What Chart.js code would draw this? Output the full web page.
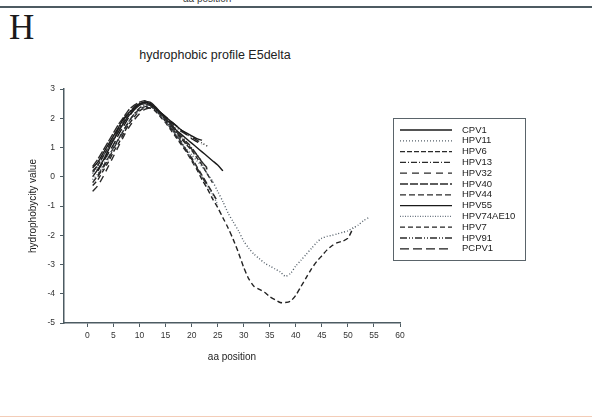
<!DOCTYPE html>
<html>
<head>
<meta charset="utf-8">
<script src="https://cdn.jsdelivr.net/npm/chart.js@4.4.1/dist/chart.umd.min.js"></script>
<style>
  html, body { margin: 0; padding: 0; background: #fff; }
  #wrap { position: relative; width: 592px; height: 418px; overflow: hidden; }
  #chart { position: absolute; left: 0; top: 0; }
  .cut { position: absolute; top: -7px; left: 183px; font: 10px "Liberation Sans", Arial, sans-serif; color: #3a3a3a; }
  .rule { position: absolute; top: 6px; left: 0; width: 592px; height: 2px; background: #4d5b62; }
  .foot { position: absolute; bottom: 1px; left: 0; width: 592px; height: 1px; background: #f3cdb8; }
  .panel { position: absolute; left: 9px; top: 8px; font: 35px "Liberation Serif", "DejaVu Serif", serif; color: #1a1a1a; }
  .title { position: absolute; left: 105px; width: 220px; top: 48px; text-align: center; font: 12.5px "Liberation Sans", Arial, sans-serif; color: #222; }
</style>
</head>
<body>
<div id="wrap">
  <div class="cut">aa position</div>
  <div class="rule"></div>
  <div class="panel">H</div>
  <div class="title">hydrophobic profile E5delta</div>
  <canvas id="chart" width="592" height="418"></canvas>
  <div class="foot"></div>
</div>
<script>
// series names (legend order) and first aa position of each series
const names = ['CPV1', 'HPV11', 'HPV6', 'HPV13', 'HPV32', 'HPV40', 'HPV44', 'HPV55', 'HPV74AE10', 'HPV7', 'HPV91', 'PCPV1']
const startPos = [1, 1, 1, 2, 1, 1, 1, 1, 1, 1, 1, 2]

// hydrophobicity values, one per aa position
const cpv1 = [0.3, 0.5, 0.8, 1.1, 1.4, 1.7, 2.0, 2.2, 2.35, 2.5, 2.55, 2.5, 2.35, 2.2, 2.05, 1.9, 1.75, 1.6, 1.5, 1.4, 1.3, 1.25]
const hpv11 = [-0.1, 0.1, 0.4, 0.7, 1.0, 1.3, 1.6, 1.9, 2.1, 2.3, 2.4, 2.4, 2.3, 2.1, 1.9, 1.7, 1.45, 1.2, 0.95, 0.75, 0.55, 0.35, 0.1, -0.15, -0.5, -0.85, -1.24, -1.55, -1.85, -2.2, -2.45, -2.65, -2.8, -2.95, -3.05, -3.15, -3.25, -3.4, -3.3, -3.05, -2.85, -2.65, -2.45, -2.25, -2.1, -2.04, -2.0, -1.95, -1.9, -1.85, -1.75, -1.65, -1.5, -1.4]
const hpv6 = [0.2, 0.4, 0.7, 1.0, 1.3, 1.6, 1.9, 2.15, 2.35, 2.45, 2.5, 2.45, 2.3, 2.1, 1.9, 1.7, 1.5, 1.3, 1.1, 0.9, 0.65, 0.4, 0.1, -0.2]
const hpv13 = [0.0, 0.3, 0.6, 0.95, 1.3, 1.6, 1.9, 2.15, 2.35, 2.45, 2.45, 2.35, 2.2, 2.0, 1.8, 1.6, 1.4, 1.2, 1.0, 0.75, 0.5, 0.25]
const hpv32 = [-0.5, -0.3, 0.0, 0.35, 0.7, 1.05, 1.4, 1.7, 1.95, 2.15, 2.3, 2.35, 2.3, 2.15, 1.95, 1.7, 1.45, 1.2, 0.9, 0.6, 0.3, 0.0, -0.3]
const hpv40 = [0.35, 0.6, 0.9, 1.2, 1.5, 1.8, 2.05, 2.3, 2.45, 2.55, 2.6, 2.5, 2.35, 2.15, 1.95, 1.75, 1.55, 1.35, 1.15, 0.95, 0.75, 0.5, 0.3]
const hpv44 = [-0.2, 0.05, 0.35, 0.65, 1.0, 1.3, 1.6, 1.9, 2.15, 2.3, 2.4, 2.4, 2.3, 2.1, 1.9, 1.65, 1.4, 1.15, 0.9, 0.65, 0.35, 0.05, -0.25, -0.55, -0.85]
const hpv55 = [0.0, 0.25, 0.55, 0.9, 1.25, 1.55, 1.85, 2.1, 2.3, 2.45, 2.55, 2.55, 2.4, 2.2, 2.0, 1.8, 1.6, 1.45, 1.3, 1.15, 1.0, 0.85, 0.7, 0.55, 0.4, 0.2]
const hpv74ae10 = [0.1, 0.35, 0.65, 0.95, 1.25, 1.55, 1.85, 2.1, 2.3, 2.45, 2.5, 2.45, 2.3, 2.1, 1.9, 1.65, 1.4, 1.15, 0.9, 0.6, 0.3, 0.0, -0.3, -0.6, -0.95]
const hpv7 = [-0.3, -0.1, 0.2, 0.5, 0.85, 1.15, 1.5, 1.8, 2.05, 2.25, 2.35, 2.35, 2.25, 2.05, 1.85, 1.6, 1.35, 1.1, 0.85, 0.55, 0.25, -0.1, -0.4, -0.75, -1.05, -1.4, -1.75, -2.15, -2.6, -3.1, -3.5, -3.75, -3.85, -3.95, -4.1, -4.2, -4.3, -4.3, -4.25, -4.05, -3.75, -3.45, -3.15, -2.9, -2.7, -2.5, -2.35, -2.25, -2.2, -2.1, -1.75]
const hpv91 = [0.15, 0.4, 0.7, 1.0, 1.35, 1.65, 1.95, 2.2, 2.4, 2.5, 2.55, 2.45, 2.3, 2.15, 2.0, 1.85, 1.7, 1.55, 1.45, 1.35, 1.25, 1.15, 1.05]
const pcpv1 = [0.2, 0.5, 0.8, 1.1, 1.45, 1.75, 2.05, 2.3, 2.45, 2.55, 2.5, 2.35, 2.2, 2.05, 1.9, 1.75, 1.6, 1.45, 1.3, 1.2, 1.1]

const xTicks = [0, 5, 10, 15, 20, 25, 30, 35, 40, 45, 50, 55, 60]
const yTicks = [-5, -4, -3, -2, -1, 0, 1, 2, 3]

const values = [cpv1, hpv11, hpv6, hpv13, hpv32, hpv40, hpv44, hpv55, hpv74ae10, hpv7, hpv91, pcpv1]
const dashes = [[], [1, 2], [5, 2], [6, 2, 1, 2], [7, 5], [8, 2], [6, 3], [], [1, 1.5], [5, 3], [7, 2, 1, 2, 1, 2], [9, 4]]
const colors = ['#1a1a1a', '#55606a', '#2a2a2a', '#2a2a2a', '#2a2a2a', '#2a2a2a', '#2a2a2a', '#1a1a1a', '#6a7480', '#222', '#2a2a2a', '#1a1a1a']

const datasets = names.map((name, i) => ({
  label: name,
  data: values[i].map((v, j) => ({ x: startPos[i] + j, y: v })),
  borderColor: colors[i],
  borderDash: dashes[i],
  borderWidth: 1.4,
  pointRadius: 0,
  tension: 0.25,
  fill: false
}))

const font = { family: '"Liberation Sans", Arial, sans-serif', size: 8.5 }

// boxed legend with line samples, like the original figure
const boxLegend = {
  id: 'boxLegend',
  afterDraw (chart) {
    const ctx = chart.ctx
    const x0 = 393
    const y0 = 118
    ctx.save()
    ctx.strokeStyle = '#5a646a'
    ctx.lineWidth = 1
    ctx.setLineDash([])
    ctx.strokeRect(x0 + 0.5, y0 + 0.5, 132, 142)
    ctx.font = '9.5px "Liberation Sans", Arial, sans-serif'
    ctx.textBaseline = 'middle'
    chart.data.datasets.forEach((ds, i) => {
      const y = y0 + 12 + i * 10.8
      ctx.strokeStyle = ds.borderColor
      ctx.lineWidth = 1.3
      ctx.setLineDash(ds.borderDash)
      ctx.beginPath()
      ctx.moveTo(x0 + 7, y)
      ctx.lineTo(x0 + 59, y)
      ctx.stroke()
      ctx.fillStyle = '#222'
      ctx.fillText(ds.label, x0 + 69, y)
    })
    ctx.restore()
  }
}

new Chart(document.getElementById('chart'), {
  type: 'line',
  data: { datasets },
  options: {
    responsive: false,
    animation: false,
    layout: { padding: { left: 27, top: 89, right: 192, bottom: 55 } },
    plugins: {
      legend: { display: false },
      tooltip: { enabled: false }
    },
    scales: {
      x: {
        type: 'linear',
        min: -4.5,
        max: 60,
        afterBuildTicks: (scale) => { scale.ticks = xTicks.map(v => ({ value: v })) },
        afterFit: (scale) => { scale.height = 40 },
        border: { display: true, color: '#4d5b62', width: 1.5 },
        grid: { drawOnChartArea: false, drawTicks: true, tickLength: 4, color: '#4d5b62' },
        ticks: { font, color: '#333', padding: 4, maxRotation: 0 },
        title: { display: true, text: 'aa position', font: { family: font.family, size: 10 }, color: '#222', padding: 0 }
      },
      y: {
        min: -5,
        max: 3,
        afterBuildTicks: (scale) => { scale.ticks = yTicks.map(v => ({ value: v })) },
        afterFit: (scale) => { scale.width = 37 },
        border: { display: true, color: '#4d5b62', width: 1.5 },
        grid: { drawOnChartArea: false, drawTicks: true, tickLength: 4, color: '#4d5b62' },
        ticks: { font, color: '#333', padding: 5 },
        title: { display: true, text: 'hydrophobycity value', font: { family: font.family, size: 10 }, color: '#222', padding: 0 }
      }
    }
  },
  plugins: [boxLegend]
})
</script>
</body>
</html>
